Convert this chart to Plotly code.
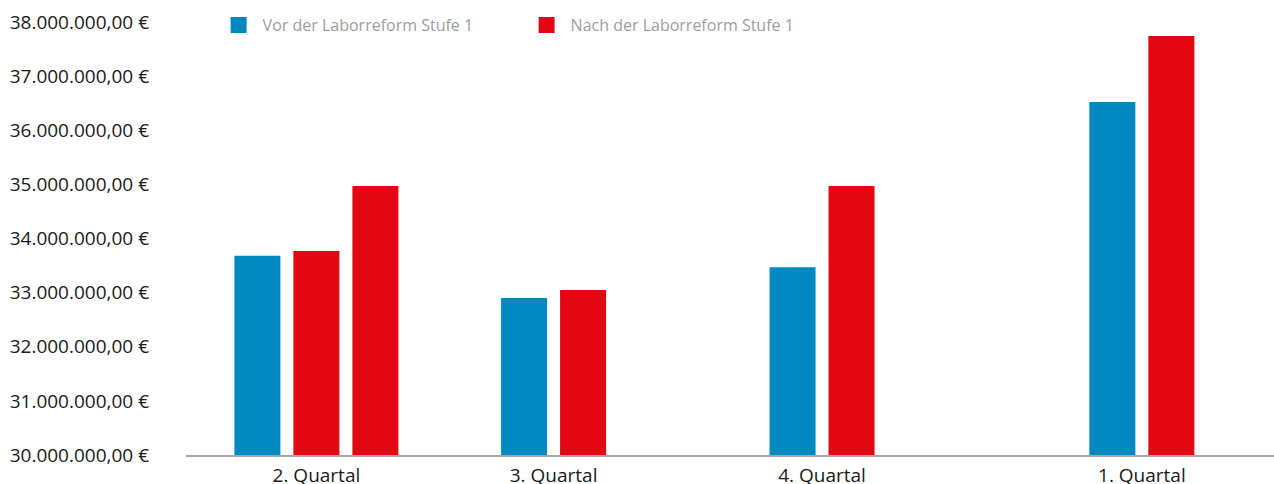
import plotly.graph_objects as go

# ---- data -------------------------------------------------------------
quarters = ["2. Quartal", "3. Quartal", "4. Quartal", "1. Quartal"]
quarter_pos = [2.21, 6.23, 10.78, 16.20]          # group centres on numeric x axis
vor_values = [33_680_000, 32_900_000, 33_470_000, 36_520_000]
nach_values = [[33_770_000, 34_970_000], [33_050_000], [34_970_000], [37_740_000]]
series_names = ["Vor der Laborreform Stufe 1", "Nach der Laborreform Stufe 1"]
colors = ["#0089c0", "#e30613"]
y_min, y_max = 30_000_000, 38_000_000

# ---- build bar positions (one slot per bar, centred on the quarter) ----
vor_x, nach_x, nach_y = [], [], []
for c, v, n in zip(quarter_pos, vor_values, nach_values):
    count = 1 + len(n)
    offs = [i - (count - 1) / 2 for i in range(count)]
    vor_x.append(c + offs[0])
    for o, val in zip(offs[1:], n):
        nach_x.append(c + o)
        nach_y.append(val)

fig = go.Figure()
fig.add_trace(go.Bar(x=vor_x, y=vor_values, width=0.78, marker_color=colors[0],
                     marker_line_width=0, showlegend=False, name=series_names[0]))
fig.add_trace(go.Bar(x=nach_x, y=nach_y, width=0.78, marker_color=colors[1],
                     marker_line_width=0, showlegend=False, name=series_names[1]))
# legend entries
for name, col in zip(series_names, colors):
    fig.add_trace(go.Scatter(x=[None], y=[None], mode="markers", name=name,
                             marker=dict(symbol="square", size=18, color=col)))

fig.update_layout(
    width=1274, height=484,
    margin=dict(l=186, r=0, t=22, b=29, autoexpand=False),
    plot_bgcolor="white", paper_bgcolor="white",
    separators=",.",
    font=dict(family="Open Sans", size=19, color="#1a1a1a"),
    barmode="overlay",
    legend=dict(orientation="h", x=0.0263, xanchor="left", y=0.993, yanchor="middle",
                font=dict(size=16, color="#9d9d9d"), entrywidth=255, itemwidth=38,
                bgcolor="rgba(0,0,0,0)"),
    xaxis=dict(range=[0, 18.44], showgrid=False, zeroline=False, showline=True,
               linecolor="#a6a6a6", linewidth=2, tickvals=quarter_pos, ticktext=quarters,
               ticks="", ticklabelstandoff=2, automargin=False,
               tickfont=dict(size=19, color="#1a1a1a")),
    yaxis=dict(range=[y_min, y_max], dtick=1_000_000, tickformat=",.2f", ticksuffix=" €",
               showgrid=False, zeroline=False, showline=False, ticks="", automargin=False,
               ticklabelstandoff=36, tickfont=dict(size=19, color="#1a1a1a")),
)

fig.write_html("out.html", config={"displayModeBar": False},
               post_script="document.body.style.margin='0';")
